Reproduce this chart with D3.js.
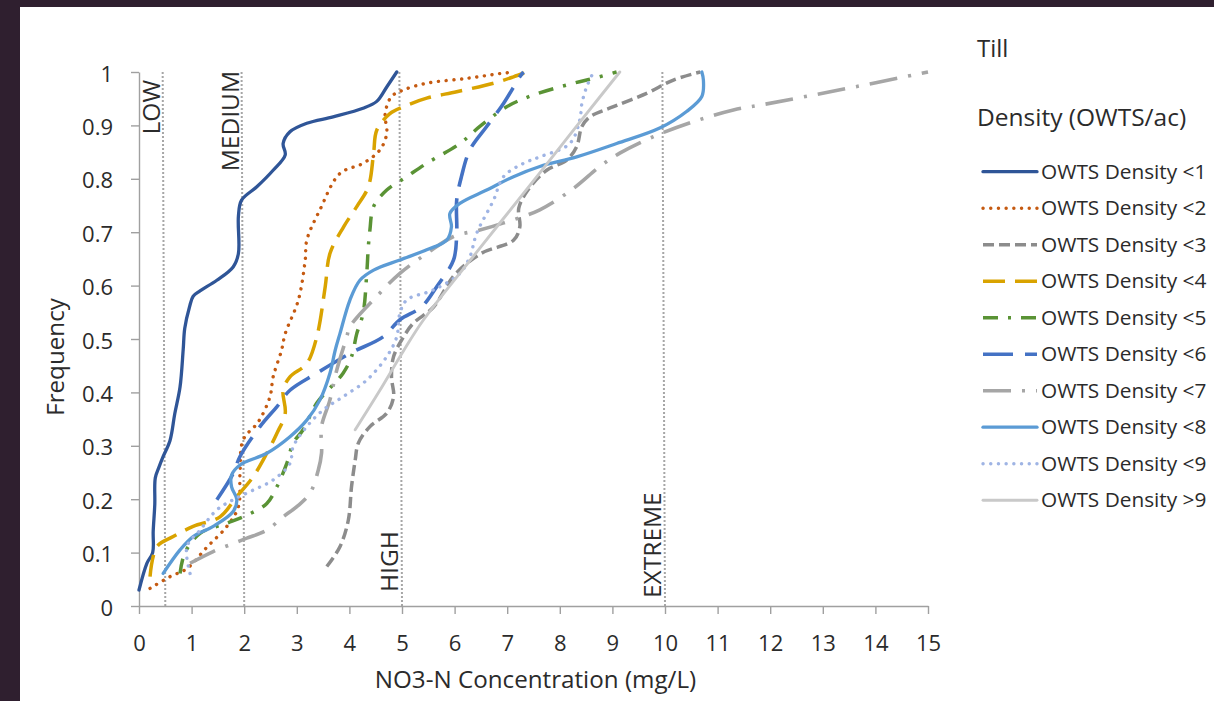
<!DOCTYPE html>
<html>
<head>
<meta charset="utf-8">
<script src="https://cdn.jsdelivr.net/npm/d3@7"></script>
<style>
  html, body { margin: 0; padding: 0; background: #2f1f2f; }
  svg { display: block; }
  text { font-family: "Open Sans", sans-serif; fill: #2b2b2b; }
</style>
</head>
<body>
<svg id="chart" width="1214" height="701"></svg>
<script>
// ---------------- DATA ----------------
const seriesNames = ["OWTS Density <1","OWTS Density <2","OWTS Density <3","OWTS Density <4","OWTS Density <5",
                     "OWTS Density <6","OWTS Density <7","OWTS Density <8","OWTS Density <9","OWTS Density >9"];

const owts1 = [[0,0.03],[0.15,0.08],[0.26,0.1],[0.27,0.14],[0.3,0.19],[0.31,0.24],[0.38,0.26],[0.46,0.28],[0.59,0.31],[0.68,0.36],[0.78,0.41],[0.84,0.48],[0.87,0.52],[0.96,0.56],[1.03,0.58],[1.16,0.59],[1.48,0.61],[1.79,0.635],[1.89,0.66],[1.89,0.73],[1.95,0.76],[2.24,0.785],[2.55,0.816],[2.78,0.845],[2.74,0.866],[2.87,0.888],[3.19,0.904],[3.69,0.916],[4.26,0.932],[4.52,0.945],[4.71,0.972],[4.90,1.0]];
const owts2 = [[0.21,0.033],[0.59,0.055],[0.91,0.07],[1.29,0.11],[1.67,0.149],[1.89,0.186],[1.92,0.248],[1.98,0.311],[2.27,0.345],[2.49,0.392],[2.55,0.429],[2.71,0.479],[2.78,0.51],[3.03,0.573],[3.16,0.648],[3.19,0.685],[3.44,0.742],[3.82,0.81],[4.26,0.829],[4.58,0.854],[4.71,0.885],[4.68,0.922],[4.80,0.954],[5.02,0.966],[5.47,0.979],[6.23,0.988],[6.86,0.997],[7.12,1.0]];
const owts3 = [[3.57,0.074],[3.82,0.111],[3.98,0.161],[4.04,0.223],[4.11,0.273],[4.17,0.305],[4.39,0.336],[4.71,0.361],[4.84,0.392],[4.80,0.429],[4.84,0.467],[5.03,0.504],[5.21,0.529],[5.6,0.56],[6.0,0.62],[6.5,0.66],[7.12,0.685],[7.24,0.71],[7.22,0.745],[7.4,0.78],[7.75,0.816],[8.13,0.835],[8.32,0.86],[8.42,0.898],[8.57,0.916],[9.02,0.935],[9.65,0.96],[10.16,0.985],[10.67,1.0]];
const owts4 = [[0.21,0.055],[0.34,0.111],[0.65,0.13],[1.03,0.149],[1.54,0.167],[1.86,0.205],[2.17,0.242],[2.43,0.286],[2.62,0.323],[2.78,0.361],[2.74,0.404],[2.87,0.429],[3.19,0.454],[3.38,0.504],[3.54,0.598],[3.63,0.66],[3.89,0.71],[4.14,0.748],[4.36,0.785],[4.46,0.848],[4.52,0.891],[4.77,0.922],[5.03,0.935],[5.47,0.951],[6.04,0.963],[6.74,0.979],[7.12,0.991],[7.37,1.0]];
const owts5 = [[0.78,0.061],[0.87,0.099],[1.16,0.136],[1.67,0.155],[2.05,0.17],[2.43,0.192],[2.62,0.223],[2.81,0.267],[2.93,0.305],[3.12,0.33],[3.38,0.38],[3.88,0.436],[4.04,0.467],[4.14,0.51],[4.26,0.548],[4.33,0.623],[4.36,0.673],[4.39,0.704],[4.46,0.748],[4.71,0.779],[5.09,0.804],[5.47,0.829],[6.10,0.866],[6.48,0.898],[6.99,0.935],[7.5,0.957],[8.26,0.979],[8.64,0.988],[9.08,1.0]];
const owts6 = [[1.48,0.199],[1.79,0.248],[1.92,0.28],[2.30,0.336],[2.62,0.373],[2.87,0.404],[3.38,0.436],[4.01,0.473],[4.64,0.504],[4.96,0.536],[5.37,0.56],[5.66,0.598],[5.98,0.648],[6.04,0.698],[6.04,0.76],[6.13,0.804],[6.29,0.854],[6.61,0.898],[6.93,0.941],[7.24,0.991],[7.31,1.0]];
const owts7 = [[0.97,0.08],[1.41,0.102],[1.79,0.117],[2.05,0.127],[2.43,0.142],[2.74,0.167],[3.0,0.186],[3.25,0.211],[3.41,0.255],[3.47,0.286],[3.47,0.336],[3.63,0.386],[3.76,0.442],[3.95,0.504],[4.01,0.523],[4.58,0.586],[4.96,0.623],[5.47,0.66],[5.98,0.692],[6.48,0.704],[6.92,0.717],[7.62,0.742],[8.26,0.782],[8.76,0.823],[9.14,0.848],[9.78,0.879],[10.54,0.907],[11.30,0.929],[11.81,0.938],[13.4,0.968],[15,1.0]];
const owts8 = [[0.46,0.061],[0.78,0.105],[1.03,0.13],[1.41,0.149],[1.79,0.177],[1.86,0.199],[1.76,0.223],[1.76,0.245],[1.92,0.264],[2.43,0.286],[2.87,0.317],[3.19,0.348],[3.44,0.386],[3.63,0.436],[3.73,0.479],[3.82,0.51],[4.01,0.573],[4.20,0.61],[4.46,0.629],[4.96,0.648],[5.47,0.667],[5.85,0.685],[5.94,0.71],[5.91,0.735],[6.10,0.754],[6.61,0.779],[7.12,0.804],[7.62,0.823],[8.32,0.841],[9.08,0.866],[9.9,0.895],[10.41,0.926],[10.70,0.954],[10.73,0.985],[10.70,1.0]];
const owts9 = [[0.97,0.061],[0.91,0.111],[1.16,0.142],[1.48,0.18],[1.79,0.199],[2.17,0.217],[2.55,0.236],[2.87,0.267],[2.93,0.298],[3.19,0.336],[3.50,0.367],[3.88,0.392],[4.33,0.423],[4.71,0.467],[4.90,0.504],[4.96,0.548],[5.09,0.573],[5.60,0.592],[6.10,0.623],[6.29,0.654],[6.42,0.698],[6.74,0.76],[6.93,0.804],[7.31,0.829],[7.62,0.841],[8.19,0.866],[8.38,0.91],[8.42,0.941],[8.51,0.972],[8.64,1.0]];
const owts10 = [[4.11,0.33],[4.58,0.404],[5.03,0.478],[5.41,0.536],[6.48,0.67],[7.62,0.811],[8.38,0.906],[9.14,1.0]];

const seriesData = [owts1, owts2, owts3, owts4, owts5, owts6, owts7, owts8, owts9, owts10];

const xTicks = [0,1,2,3,4,5,6,7,8,9,10,11,12,13,14,15];
const yTicks = [0,0.1,0.2,0.3,0.4,0.5,0.6,0.7,0.8,0.9,1];

const refLabels = ["LOW","MEDIUM","HIGH","EXTREME"];
const refBottom = [0.5, 2, 5, 10];
const refTop    = [0.45, 1.95, 4.95, 9.95];

const chartTitle = "Till";
const legendTitle = "Density (OWTS/ac)";
const xTitle = "NO3-N Concentration (mg/L)";
const yTitle = "Frequency";

// ---------------- STYLES ----------------
const styles = [
  {color:"#2f5597", width:3.3, dash:null, cap:"round"},
  {color:"#c55a11", width:3.4, dash:"0.1,7.6", cap:"round"},
  {color:"#8c8c8c", width:3.5, dash:"11,5", cap:"butt"},
  {color:"#d9a300", width:3.5, dash:"22,10", cap:"butt"},
  {color:"#5a9335", width:3.5, dash:"15,10,3,10", cap:"butt"},
  {color:"#4472c4", width:3.6, dash:"30,12", cap:"butt"},
  {color:"#a6a6a6", width:3.6, dash:"28,11,3,11", cap:"butt"},
  {color:"#5b9bd5", width:3.3, dash:null, cap:"round"},
  {color:"#9fb4e4", width:3.4, dash:"0.1,7.6", cap:"round"},
  {color:"#c9c9c9", width:2.9, dash:null, cap:"round"}
];

// ---------------- DRAW ----------------
const svg = d3.select("#chart");
svg.append("rect").attr("x",0).attr("y",0).attr("width",1214).attr("height",701).attr("fill","#2f1f2f");
svg.append("rect").attr("x",20).attr("y",7).attr("width",1194).attr("height",694).attr("fill","#ffffff");

const x = d3.scaleLinear().domain([0,15]).range([139,928]);
const y = d3.scaleLinear().domain([0,1]).range([606,72]);

// reference lines
const refG = svg.append("g");
refLabels.forEach((lab,i)=>{
  refG.append("line")
    .attr("x1", x(refBottom[i])).attr("y1", y(0))
    .attr("x2", x(refTop[i])).attr("y2", y(1))
    .attr("stroke","#a6a6a6").attr("stroke-width",2).attr("stroke-dasharray","2,2");
});

// axes
const xAxis = d3.axisBottom(x).tickValues(xTicks).tickSize(8).tickSizeOuter(0).tickFormat(d3.format("d"));
const yAxis = d3.axisLeft(y).tickValues(yTicks).tickSize(8).tickSizeOuter(0).tickFormat(d=> d===0?"0":(d===1?"1":d3.format(".1f")(d)));

const gx = svg.append("g").attr("transform",`translate(0,${y(0)})`).call(xAxis);
const gy = svg.append("g").attr("transform",`translate(${x(0)},0)`).call(yAxis);
[gx,gy].forEach(g=>{
  g.select(".domain").attr("stroke","#a0a0a0").attr("stroke-width",1.4);
  g.selectAll(".tick line").attr("stroke","#a0a0a0").attr("stroke-width",1.4);
  g.selectAll(".tick text").attr("font-family","Open Sans").attr("font-size",22).attr("fill","#2b2b2b");
});
gx.selectAll(".tick text").attr("dy",null).attr("y",45);
gy.selectAll(".tick text").attr("dy",null).attr("x",-26).attr("y",9);

// ref labels
const refLabelPos = [
  {anchor:"end", yy:80, useTop:true, dx:-3},
  {anchor:"end", yy:71, useTop:true, dx:-3},
  {anchor:"start", yy:592, useTop:false, dx:-4},
  {anchor:"start", yy:598, useTop:false, dx:-4}
];
refLabels.forEach((lab,i)=>{
  const p = refLabelPos[i];
  const xv = p.useTop ? refTop[i] : refBottom[i];
  svg.append("text")
    .attr("transform",`translate(${x(xv)+p.dx},${p.yy}) rotate(-90)`)
    .attr("text-anchor",p.anchor)
    .attr("font-size",24.5)
    .text(lab);
});

// series
const line = d3.line().x(d=>x(d[0])).y(d=>y(d[1])).curve(d3.curveCatmullRom.alpha(0.5));
const sG = svg.append("g");
seriesData.forEach((data,i)=>{
  const s = styles[i];
  sG.append("path").datum(data)
    .attr("d",line)
    .attr("fill","none")
    .attr("stroke",s.color)
    .attr("stroke-width",s.width)
    .attr("stroke-linecap",s.cap)
    .attr("stroke-linejoin","round")
    .attr("stroke-dasharray",s.dash);
});

// axis titles
svg.append("text").attr("x",(x(0)+x(15))/2+2).attr("y",688).attr("text-anchor","middle").attr("font-size",24.2).text(xTitle);
svg.append("text").attr("transform",`translate(64,${(y(0)+y(1))/2+18}) rotate(-90)`).attr("text-anchor","middle").attr("font-size",24.2).text(yTitle);

// legend
svg.append("text").attr("x",977).attr("y",57).attr("font-size",24).text(chartTitle);
svg.append("text").attr("x",977).attr("y",126).attr("font-size",24.5).text(legendTitle);
const lg = svg.append("g");
seriesNames.forEach((nm,i)=>{
  const s = styles[i];
  const cy = 171.7 + i*36.5;
  lg.append("line").attr("x1",983).attr("x2",1037).attr("y1",cy).attr("y2",cy)
    .attr("stroke",s.color).attr("stroke-width",s.width)
    .attr("stroke-linecap",s.cap).attr("stroke-dasharray",s.dash);
  lg.append("text").attr("x",1041).attr("y",cy+7).attr("font-size",20.8).text(nm);
});
</script>
</body>
</html>
